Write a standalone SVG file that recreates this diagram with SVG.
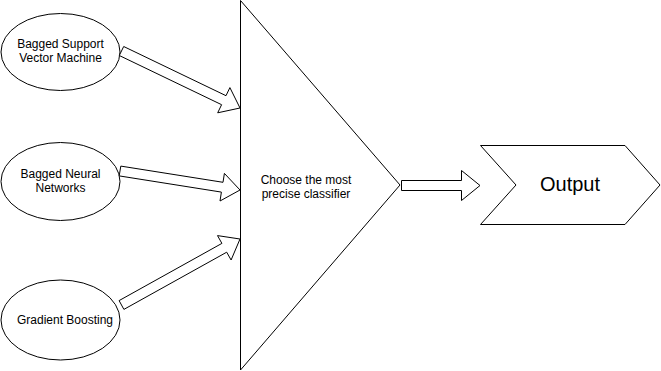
<svg xmlns="http://www.w3.org/2000/svg" width="661" height="371" viewBox="0 0 661 371">
  <style>
    .shape { fill: #ffffff; stroke: #000000; stroke-width: 1; }
    .arrow { fill: #ffffff; stroke: #000000; stroke-width: 1; stroke-linejoin: miter; }
    .label { font-family: "Liberation Sans", Arial, sans-serif; font-size: 12px; fill: #000000; text-anchor: middle; }
    .big { font-size: 20px; }
  </style>
  <rect x="0" y="0" width="661" height="371" fill="#ffffff"/>

  <g id="svm">
    <ellipse class="shape" cx="60.5" cy="52" rx="59.5" ry="38.5"/>
    <text class="label" x="60.5" y="48">Bagged Support</text>
    <text class="label" x="60.5" y="62">Vector Machine</text>
  </g>

  <g id="neural">
    <ellipse class="shape" cx="60.5" cy="181.5" rx="59.5" ry="39"/>
    <text class="label" x="60.5" y="178">Bagged Neural</text>
    <text class="label" x="60.5" y="192">Networks</text>
  </g>

  <g id="boosting">
    <ellipse class="shape" cx="60.5" cy="320" rx="59.5" ry="40"/>
    <text class="label" x="65" y="324">Gradient Boosting</text>
  </g>

  <g id="selector">
    <polygon class="shape" points="240.5,0.5 400,185 240.5,370"/>
    <text class="label" x="306" y="184">Choose the most</text>
    <text class="label" x="306" y="198">precise classifier</text>
  </g>

  <g id="output">
    <polygon class="shape" points="480.5,145.5 625,145.5 660,185 625,224.5 480.5,224.5 516,185"/>
    <text class="label big" x="570" y="191">Output</text>
  </g>

  <g id="connectors">
    <polygon class="arrow" points="123.7,46.5 226,95.7 229.9,87.6 240,108 217.7,112.8 221.6,104.7 119.3,55.5"/>
    <polygon class="arrow" points="120.8,166.1 223,182.3 224.4,173.4 240,190 220,201 221.4,192.1 119.2,175.9"/>
    <polygon class="arrow" points="119.1,300.6 221.9,243.4 217.5,235.6 240,239 231.1,260 226.7,252.2 123.9,309.4"/>
    <polygon class="arrow" points="401.5,180.5 461.5,180.5 461.5,170.5 480,185.5 461.5,200.5 461.5,190.5 401.5,190.5"/>
  </g>
</svg>
